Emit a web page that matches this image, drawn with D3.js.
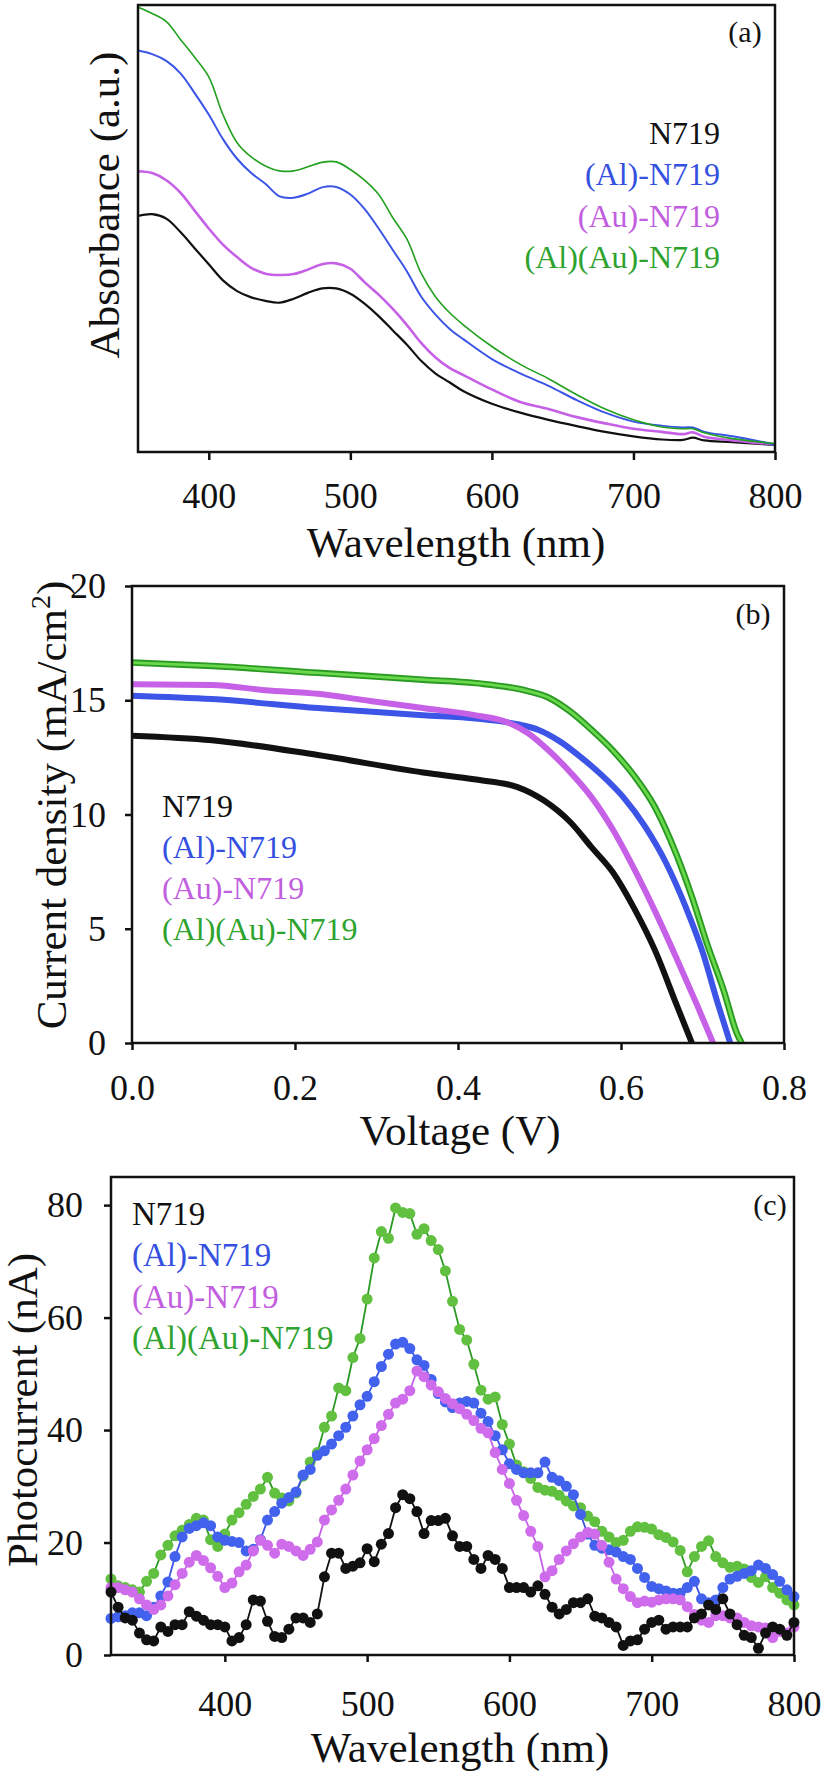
<!DOCTYPE html>
<html><head><meta charset="utf-8">
<script src="https://cdn.jsdelivr.net/npm/d3@7"></script>
<style>
html,body{margin:0;padding:0;background:#fff;}
svg{display:block;}
text{font-family:"Liberation Serif","Times New Roman",serif;}
</style></head>
<body>
<svg id="chart" width="827" height="1781" font-family="Liberation Serif, Times New Roman, serif"></svg>
<script>
// ---------- DATA ----------
const seriesNames = ["N719", "(Al)-N719", "(Au)-N719", "(Al)(Au)-N719"];
const seriesColors = ["#111111", "#3c55e6", "#c660e6", "#2ea323"];
const legendColors = ["#111111", "#3550e0", "#c25ee0", "#2ea32e"];

// (a) Absorbance (a.u.)
const absWave = [350,360,370,380,390,400,410,420,430,440,450,460,470,480,490,500,510,520,530,540,550,560,570,580,600,620,640,660,680,700,720,735,742,750,770,800];
const absN719 = [0.528,0.532,0.522,0.492,0.456,0.420,0.384,0.360,0.346,0.338,0.334,0.343,0.356,0.366,0.366,0.354,0.332,0.304,0.272,0.240,0.204,0.176,0.156,0.136,0.108,0.088,0.072,0.058,0.045,0.035,0.028,0.027,0.032,0.026,0.022,0.016];
const absAl   = [0.898,0.890,0.875,0.847,0.803,0.755,0.700,0.656,0.624,0.600,0.572,0.569,0.578,0.592,0.593,0.576,0.544,0.500,0.452,0.404,0.348,0.308,0.276,0.252,0.208,0.176,0.148,0.116,0.088,0.068,0.059,0.055,0.055,0.045,0.035,0.017];
const absAu   = [0.628,0.624,0.608,0.580,0.540,0.500,0.464,0.436,0.412,0.399,0.396,0.398,0.408,0.420,0.422,0.410,0.380,0.352,0.320,0.284,0.244,0.212,0.188,0.172,0.140,0.112,0.096,0.078,0.064,0.052,0.045,0.040,0.044,0.034,0.026,0.017];
const absAlAu = [0.995,0.981,0.963,0.923,0.883,0.839,0.755,0.692,0.660,0.640,0.629,0.629,0.638,0.648,0.649,0.632,0.608,0.576,0.524,0.476,0.400,0.348,0.312,0.284,0.236,0.196,0.164,0.128,0.096,0.072,0.056,0.052,0.052,0.043,0.030,0.019];
const absTicks = [400,500,600,700,800];

// (b) J-V
const jvV_N719 = [0,0.098,0.228,0.357,0.422,0.473,0.506,0.538,0.564,0.590,0.616,0.642,0.668,0.687];
const jvJ_N719 = [13.45,13.25,12.6,11.84,11.53,11.2,10.6,9.66,8.56,7.47,5.9,4.03,1.69,0];
const jvV_Al = [0,0.098,0.228,0.357,0.422,0.473,0.499,0.525,0.551,0.577,0.603,0.629,0.655,0.680,0.700,0.719,0.734];
const jvJ_Al = [15.2,15.05,14.66,14.34,14.2,13.95,13.7,13.2,12.5,11.7,10.75,9.5,7.9,5.9,4.0,1.7,0];
const jvV_Au = [0,0.098,0.163,0.228,0.292,0.357,0.422,0.461,0.486,0.512,0.538,0.564,0.590,0.616,0.642,0.668,0.693,0.713];
const jvJ_Au = [15.7,15.67,15.44,15.28,14.97,14.66,14.34,14.03,13.56,12.78,11.84,10.75,9.34,7.63,5.75,3.72,1.69,0];
const jvV_AlAu = [0,0.098,0.228,0.357,0.422,0.486,0.512,0.538,0.564,0.590,0.616,0.642,0.668,0.687,0.706,0.726,0.742,0.748];
const jvJ_AlAu = [16.65,16.5,16.2,15.9,15.75,15.4,15.1,14.5,13.7,12.8,11.7,10.3,8.25,6.4,4.3,2.3,0.44,0];
const jvXTicks = [0,0.2,0.4,0.6,0.8];
const jvYTicks = [0,5,10,15,20];

// (c) Photocurrent (nA)
const pcWave = [320,325,330,335,340,345,350,355,360,365,370,375,380,385,390,395,400,405,410,415,420,425,430,435,440,445,450,455,460,465,470,475,480,485,490,495,500,505,510,515,520,525,530,535,540,545,550,555,560,565,570,575,580,585,590,595,600,605,610,615,620,625,630,635,640,645,650,655,660,665,670,675,680,685,690,695,700,705,710,715,720,725,730,735,740,745,750,755,760,765,770,775,780,785,790,795,800];
const pcN719 = [11.2,8.5,6.6,6.2,3.9,2.7,2.5,5.0,4.2,5.4,5.4,7.7,6.9,6.2,5.4,5.4,5.0,2.5,3.1,5.4,9.8,9.6,6.0,3.3,3.1,4.6,6.6,6.6,5.8,7.3,13.9,18.1,18.1,15.4,15.8,16.4,18.9,16.6,19.7,21.6,26.2,28.5,27.8,25.5,21.6,23.9,23.9,24.3,21.2,19.3,19.3,17.0,15.4,17.7,17.0,15.4,12.0,12.0,12.0,11.2,12.3,10.8,8.5,7.3,8.1,9.3,9.3,10.0,6.9,6.6,5.8,5.0,1.7,2.5,2.7,4.6,5.8,6.2,4.6,5.0,5.0,5.0,6.6,7.3,8.9,8.1,10.0,7.3,5.4,3.5,3.1,1.2,3.9,5.0,4.6,3.5,5.8];
const pcAl = [6.5,6.8,7.0,7.5,7.5,7.0,8.5,10.5,13.0,17.5,21.0,22.5,23.0,23.5,23.0,21.0,20.4,20.2,20.0,18.5,18.8,20.5,24.0,25.5,27.0,28.0,29.0,32.0,33.0,35.5,36.3,37.5,39.0,40.5,42.5,44.5,46.0,48.6,51.3,53.5,55.3,55.6,54.5,52.5,51.5,49.0,46.5,45.0,44.0,44.8,45.1,44.8,43.0,41.5,39.0,36.5,34.0,33.0,32.4,32.4,32.4,34.3,31.6,31.0,30.0,28.5,25.0,21.5,19.5,19.0,18.7,18.3,17.5,17.0,15.4,13.8,12.2,11.8,11.4,11.0,11.0,12.0,13.1,10.0,9.3,9.8,12.0,13.5,14.0,14.5,15.0,16.0,15.4,14.3,13.1,11.6,10.4];
const pcAu = [12.0,12.0,11.6,11.2,10.0,8.9,8.1,8.9,10.5,12.5,14.5,16.5,17.7,16.8,15.5,14.0,12.0,12.8,14.8,16.0,18.5,20.4,19.5,18.1,19.7,19.3,18.5,17.7,18.8,20.1,24.0,25.8,27.5,29.5,32.0,34.5,36.5,38.5,40.8,42.8,44.8,45.5,47.0,50.5,49.5,48.0,46.8,45.6,44.7,43.8,42.8,41.7,40.3,39.5,36.0,33.0,30.5,27.5,24.8,22.0,19.3,13.9,15.0,17.0,18.5,19.8,21.0,21.8,21.5,19.5,16.5,13.5,11.8,10.4,9.3,9.6,9.4,9.8,10.0,10.0,9.8,8.6,7.2,6.2,5.8,7.0,7.0,6.6,6.6,5.8,5.2,5.0,4.8,3.1,4.2,3.9,5.0];
const pcAlAu = [13.5,12.3,12.0,11.6,11.2,13.1,14.5,17.8,19.5,21.2,22.2,23.2,24.3,24.0,20.5,19.3,21.5,24.0,25.3,26.8,28.2,29.5,31.6,28.8,27.9,27.4,28.8,31.8,34.3,36.0,40.5,42.5,47.5,47.0,52.9,56.3,63.3,70.6,75.3,74.1,79.5,78.7,78.5,74.8,75.8,73.7,72.1,68.3,62.9,57.9,56.0,51.7,47.1,45.5,45.9,41.0,37.5,33.8,32.6,31.4,29.8,29.3,29.1,28.4,27.4,26.5,26.2,24.7,23.7,22.0,21.0,20.0,20.4,22.0,22.8,22.7,22.4,21.4,20.9,20.1,18.6,14.8,17.5,19.3,20.3,17.5,16.4,15.6,15.8,15.3,13.8,12.9,13.9,12.0,11.0,9.8,8.9];
const pcXTicks = [400,500,600,700,800];
const pcYTicks = [0,20,40,60,80];

// ---------- DRAWING ----------
const svg = d3.select("#chart");
const FONT = "Liberation Serif, Times New Roman, serif";

function styleAxis(g, fs) {
  g.attr("font-family", FONT);
  g.select(".domain").remove();
  g.selectAll(".tick line").attr("stroke", "#111").attr("stroke-width", 2.5);
  g.selectAll(".tick text").attr("font-family", FONT).attr("font-size", fs).attr("fill", "#111");
}
function box(x0, y0, x1, y1) {
  svg.append("rect").attr("x", x0).attr("y", y0).attr("width", x1 - x0).attr("height", y1 - y0)
    .attr("fill", "none").attr("stroke", "#111").attr("stroke-width", 2.5);
}
function label(txt, x, y, fs, anchor, color) {
  return svg.append("text").attr("x", x).attr("y", y).attr("font-size", fs).attr("font-family", FONT)
    .attr("text-anchor", anchor || "middle").attr("fill", color || "#111").text(txt);
}

// ===== Panel (a) =====
{
  const x = d3.scaleLinear().domain([350, 800]).range([138, 775]);
  const y = d3.scaleLinear().domain([0, 1]).range([452, 5]);
  const line = d3.line().x(d => x(d[0])).y(d => y(d[1])).curve(d3.curveCatmullRom);
  const sets = [absN719, absAu, absAl, absAlAu];
  const cols = ["#111111", "#c660e6", "#3c55e6", "#22a01e"];
  const widths = [2.2, 2.6, 2.0, 1.6];
  sets.forEach((s, i) => {
    svg.append("path").datum(absWave.map((w, k) => [w, s[k]]))
      .attr("fill", "none").attr("stroke", cols[i]).attr("stroke-width", widths[i]).attr("d", line);
  });
  const ax = svg.append("g").attr("transform", "translate(0,452)")
    .call(d3.axisBottom(x).tickValues(absTicks).tickSize(8).tickPadding(22).tickFormat(d3.format("d")));
  styleAxis(ax, 36);
  box(138, 5, 775, 452);
  label("(a)", 745, 42, 30);
  seriesNames.forEach((n, i) => label(n, 720, 144 + i * 41.3, 32, "end", legendColors[i]));
  label("Wavelength (nm)", 456, 557, 43);
  svg.append("text").attr("transform", "translate(119,205) rotate(-90)").attr("text-anchor", "middle")
    .attr("font-family", FONT).attr("font-size", 43).attr("fill", "#111").text("Absorbance (a.u.)");
}

// ===== Panel (b) =====
{
  const x = d3.scaleLinear().domain([0, 0.8]).range([132, 784]);
  const y = d3.scaleLinear().domain([0, 20]).range([1043, 586]);
  const line = d3.line().x(d => x(d[0])).y(d => y(d[1])).curve(d3.curveMonotoneX);
  const sets = [[jvV_N719, jvJ_N719], [jvV_Al, jvJ_Al], [jvV_Au, jvJ_Au], [jvV_AlAu, jvJ_AlAu]];
  const order = [3, 1, 2, 0];
  order.forEach(i => {
    const [vs, js] = sets[i];
    const data = vs.map((v, k) => [v, js[k]]);
    if (i === 3) {
      svg.append("path").datum(data).attr("fill", "none").attr("stroke", "#2a9a22").attr("stroke-width", 6.5).attr("d", line);
      svg.append("path").datum(data).attr("fill", "none").attr("stroke", "#6ad84c").attr("stroke-width", 2.8).attr("d", line);
    } else {
      svg.append("path").datum(data).attr("fill", "none").attr("stroke", seriesColors[i]).attr("stroke-width", 6).attr("d", line);
    }
  });
  const ax = svg.append("g").attr("transform", "translate(0,1043)")
    .call(d3.axisBottom(x).tickValues(jvXTicks).tickSize(7).tickPadding(24).tickFormat(d3.format(".1f")));
  styleAxis(ax, 36);
  const ay = svg.append("g").attr("transform", "translate(132,0)")
    .call(d3.axisLeft(y).tickValues(jvYTicks).tickSize(7).tickPadding(19).tickFormat(d3.format("d")));
  styleAxis(ay, 36);
  box(132, 586, 784, 1043);
  label("(b)", 753, 624, 30);
  seriesNames.forEach((n, i) => label(n, 162, 817 + i * 41, 32, "start", legendColors[i]));
  label("Voltage (V)", 460, 1145, 43);
  const t = svg.append("text").attr("transform", "translate(66,805) rotate(-90)").attr("text-anchor", "middle")
    .attr("font-family", FONT).attr("font-size", 43).attr("fill", "#111");
  t.append("tspan").text("Current density (mA/cm");
  t.append("tspan").attr("dy", -16).attr("font-size", 28).text("2");
  t.append("tspan").attr("dy", 16).text(")");
}

// ===== Panel (c) =====
{
  const x = d3.scaleLinear().domain([320, 800]).range([111, 794]);
  const y = d3.scaleLinear().domain([0, 85]).range([1655, 1177]);
  const line = d3.line().x(d => x(d[0])).y(d => y(d[1]));
  const sets = [pcN719, pcAl, pcAu, pcAlAu];
  const lineCols = ["#111111", "#3c55e6", "#c660e6", "#2a9a22"];
  const dotCols = ["#111111", "#4262ee", "#cf6ceb", "#62c040"];
  const order = [3, 1, 2, 0];
  order.forEach(i => {
    const data = pcWave.map((w, k) => [w, sets[i][k]]);
    const g = svg.append("g");
    g.append("path").datum(data).attr("fill", "none").attr("stroke", lineCols[i]).attr("stroke-width", 1.8).attr("d", line);
    g.selectAll("circle").data(data).join("circle")
      .attr("cx", d => x(d[0])).attr("cy", d => y(d[1])).attr("r", 5.5).attr("fill", dotCols[i]);
  });
  const ax = svg.append("g").attr("transform", "translate(0,1655)")
    .call(d3.axisBottom(x).tickValues(pcXTicks).tickSize(7).tickPadding(28).tickFormat(d3.format("d")));
  styleAxis(ax, 36);
  const ay = svg.append("g").attr("transform", "translate(111,0)")
    .call(d3.axisLeft(y).tickValues(pcYTicks).tickSize(7).tickPadding(21).tickFormat(d3.format("d")));
  styleAxis(ay, 36);
  box(111, 1177, 794, 1655);
  label("(c)", 770, 1215, 30);
  seriesNames.forEach((n, i) => label(n, 132, 1225 + i * 41.3, 33, "start", legendColors[i]));
  label("Wavelength (nm)", 460, 1762, 43);
  svg.append("text").attr("transform", "translate(37,1410) rotate(-90)").attr("text-anchor", "middle")
    .attr("font-family", FONT).attr("font-size", 43).attr("fill", "#111").text("Photocurrent (nA)");
}
</script>
</body></html>
